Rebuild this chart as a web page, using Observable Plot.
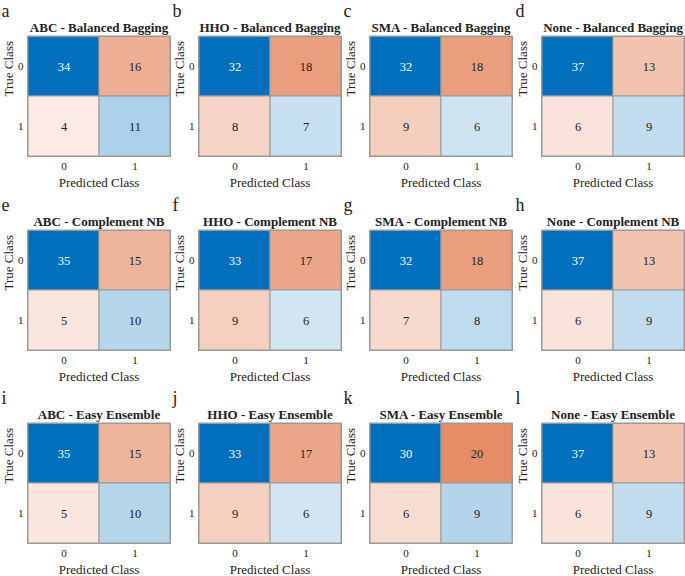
<!DOCTYPE html>
<html>
<head>
<meta charset="utf-8">
<script src="https://cdn.jsdelivr.net/npm/d3@7"></script>
<script src="https://cdn.jsdelivr.net/npm/@observablehq/plot@0.6"></script>
<style>
  html, body { margin: 0; padding: 0; background: #fff; overflow: hidden; }
  #wrap { position: relative; width: 685px; height: 576px; background: #fff; }
  .panel { position: absolute; }
  .panel svg, .panel svg text { font-family: "Liberation Serif", "Times New Roman", "DejaVu Serif", serif !important; }
</style>
</head>
<body>
<div id="wrap"></div>
<script>
const methods = ["ABC", "HHO", "SMA", "None"];
const models = ["Balanced Bagging", "Complement NB", "Easy Ensemble"];
const letters = ["a","b","c","d","e","f","g","h","i","j","k","l"];
const classes = ["0", "1"];
// each matrix: [TN(0,0), FP(0,1), FN(1,0), TP(1,1)] ordered by method
const balancedBagging = [[34,16,4,11],[32,18,8,7],[32,18,9,6],[37,13,6,9]];
const complementNB    = [[35,15,5,10],[33,17,9,6],[32,18,7,8],[37,13,6,9]];
const easyEnsemble    = [[35,15,5,10],[33,17,9,6],[30,20,6,9],[37,13,6,9]];
const matrices = [balancedBagging, complementNB, easyEnsemble];

const blue = d3.interpolateRgb("#ffffff", "#0070BD");
const orange = d3.interpolateRgb("#ffffff", "#D95319");

const colLeft = [0, 171, 342, 514];
const rowTop = [0, 194, 387];
const wrap = document.getElementById("wrap");

matrices.forEach((mat, r) => {
  mat.forEach((vals, c) => {
    const max = d3.max(vals);
    const cells = [];
    vals.forEach((v, i) => {
      const t = classes[Math.floor(i / 2)];
      const p = classes[i % 2];
      const diag = t === p;
      const k = v / max;
      cells.push({true: t, pred: p, value: v, fill: diag ? blue(k) : orange(k), text: k > 0.8 ? "white" : "#222"});
    });
    const title = `${methods[c]} - ${models[r]}`;
    const letter = letters[r * 4 + c];
    const chart = Plot.plot({
      width: 171,
      height: 189,
      marginLeft: 27,
      marginRight: 1,
      marginTop: 36,
      marginBottom: 33,
      style: {fontFamily: "Liberation Serif", fontSize: "11px", background: "transparent", overflow: "visible", color: "#222"},
      x: {domain: classes, padding: 0, label: null},
      y: {domain: classes, padding: 0, label: null},
      marks: [
        Plot.cell(cells, {x: "pred", y: "true", fill: "fill", stroke: "#999", strokeWidth: 1}),
        Plot.text(cells, {x: "pred", y: "true", text: "value", fill: "text", fontSize: 12.5}),
        Plot.frame({stroke: "#999"}),
        Plot.axisX({tickSize: 0, tickPadding: 6, fontSize: 11, label: null}),
        Plot.axisY({tickSize: 0, tickPadding: 4, fontSize: 11, label: null}),
        Plot.text([title], {frameAnchor: "top", dy: -8.5, lineAnchor: "middle", fontWeight: "bold", fontSize: 13}),
        Plot.text(["Predicted Class"], {frameAnchor: "bottom", dy: 26, lineAnchor: "middle", fontSize: 13}),
        Plot.text(["True Class"], {frameAnchor: "left", dx: -19, rotate: -90, lineAnchor: "middle", fontSize: 13}),
        Plot.text([letter], {frameAnchor: "top-left", dx: -26, dy: -20, textAnchor: "start", lineAnchor: "bottom", fontSize: 18})
      ]
    });
    const div = document.createElement("div");
    div.className = "panel";
    div.style.left = colLeft[c] + "px";
    div.style.top = rowTop[r] + "px";
    div.appendChild(chart);
    wrap.appendChild(div);
  });
});
</script>
</body>
</html>
